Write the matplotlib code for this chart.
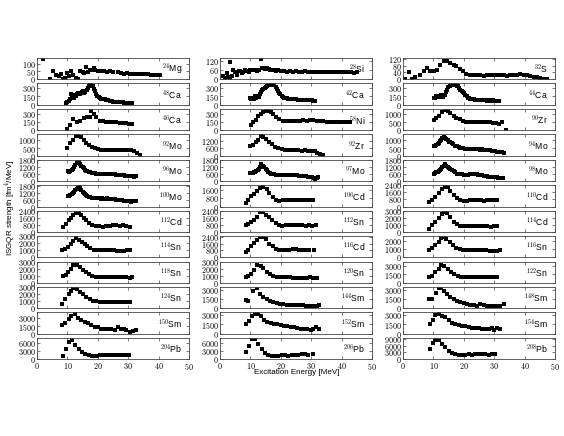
import matplotlib
matplotlib.use('Agg')
import matplotlib.pyplot as plt
from matplotlib.ticker import FuncFormatter

plt.rcParams['font.family'] = ['Liberation Sans', 'DejaVu Sans']
plt.rcParams['mathtext.fontset'] = 'cm'

# ---------------- data (excitation energy [MeV], strength [fm^4/MeV]) ----------------
mg24_e = [2.0, 4.2, 5.3, 6.1, 7.2, 8.0, 8.6, 9.1, 9.8, 10.5, 11.2, 12.0, 12.8, 13.5, 14.2, 15.0, 15.6, 16.2, 16.8, 17.4,
          18.0, 18.6, 19.2, 20.0, 21.0, 22.0, 23.0, 24.0, 25.0, 26.5, 27.5, 28.5, 29.5, 30.5, 31.5, 32.5, 33.5, 34.5,
          35.5, 36.5, 37.5, 38.5, 39.5, 40.5]
mg24_s = [127, 2, 50, 30, 22, 35, 5, 8, 38, 20, 50, 25, 8, 5, 55, 48, 42, 80, 45, 58,
          62, 72, 60, 55, 50, 52, 48, 50, 46, 47, 40, 36, 38, 34, 35, 33, 34, 32,
          31, 31, 30, 30, 29, 29]

ca48_e = [9.7, 10.0, 10.4, 10.8, 11.2, 11.5, 11.9, 12.3, 12.7, 13.1, 13.5, 13.9, 14.3, 14.7, 15.1, 15.5, 15.9, 16.3,
          16.7, 17.1, 17.5, 17.9, 18.3, 18.7, 19.1, 19.5, 19.9, 20.3, 20.7, 21.1, 21.5, 21.9, 22.3, 22.7, 23.1, 23.5,
          23.9, 24.3, 24.7, 25.1, 25.5, 25.9, 26.3, 26.7, 27.1, 27.5, 27.9, 28.3, 28.7, 29.1, 29.5, 29.9, 30.3, 30.7, 31.1]
ca48_s = [35, 55, 70, 95, 190, 150, 170, 130, 150, 200, 220, 190, 200, 230, 240, 215, 230, 260,
          310, 345, 360, 350, 330, 290, 250, 200, 165, 140, 125, 110, 105, 95, 95, 90, 85, 80,
          70, 65, 60, 55, 50, 50, 52, 48, 45, 45, 48, 42, 40, 38, 40, 32, 35, 30, 36]

ca46_e = [10.0, 10.7, 12.0, 13.2, 14.3, 15.4, 16.4, 17.3, 17.9, 18.8, 19.5, 20.6, 21.7, 22.8, 23.9, 25.0, 26.1, 27.2,
          28.3, 29.4, 30.4, 31.4]
ca46_s = [30, 100, 205, 145, 175, 220, 237, 237, 345, 300, 237, 175, 165, 155, 150, 145, 140, 135, 130, 125, 118, 105]

mo92_e = [10.0, 11.0, 11.8, 12.7, 13.6, 14.5, 15.4, 16.2, 17.1, 18.0, 19.0, 20.0, 21.0, 22.0, 23.0, 24.0, 25.0,
          26.0, 27.0, 28.0, 29.0, 30.0, 31.0, 32.0, 33.0, 34.0]
mo92_s = [530, 800, 1050, 1280, 1280, 1200, 1000, 810, 700, 580, 490, 420, 400, 400, 390, 390, 395,
          390, 385, 390, 380, 375, 350, 300, 150, 30]

mo96_e = [10.2, 10.6, 11.0, 11.4, 11.8, 12.2, 12.6, 13.0, 13.4, 13.8, 14.2, 14.6, 15.0, 15.4, 15.8, 16.2, 16.6,
          17.0, 17.5, 18.0, 18.5, 19.0, 19.5, 20.0, 20.5, 21.0, 21.5, 22.0, 22.5, 23.0, 23.5, 24.0, 24.5, 25.0,
          25.5, 26.0, 26.5, 27.0, 27.5, 28.0, 28.5, 29.0, 29.5, 30.0, 30.5, 31.0, 31.5, 32.0, 32.5]
mo96_s = [850, 800, 870, 950, 1050, 1200, 1400, 1550, 1700, 1650, 1500, 1350, 1200, 1100, 1000, 900, 850,
          800, 750, 720, 700, 680, 660, 650, 640, 650, 630, 620, 640, 620, 600, 610, 590, 580,
          600, 570, 560, 550, 540, 520, 500, 480, 470, 450, 440, 420, 400, 380, 420]

mo100_e = [10.2, 10.6, 11.0, 11.4, 11.8, 12.2, 12.6, 13.0, 13.4, 13.8, 14.2, 14.6, 15.0, 15.4, 15.8, 16.2, 16.6,
           17.0, 17.5, 18.0, 18.5, 19.0, 19.5, 20.0, 21.0, 21.5, 22.0, 22.5, 23.0, 23.5, 24.0, 24.5, 25.0, 25.5,
           26.0, 26.5, 27.0, 27.5, 28.0, 28.5, 29.0, 29.5, 30.0, 30.5, 31.0, 31.5, 32.0, 32.5]
mo100_s = [900, 920, 980, 1050, 1150, 1250, 1400, 1550, 1650, 1700, 1600, 1450, 1300, 1200, 1100, 1000, 900,
           850, 800, 760, 740, 720, 700, 700, 680, 700, 680, 660, 700, 680, 650, 660, 640, 620,
           600, 580, 570, 560, 540, 520, 500, 480, 470, 450, 400, 480, 520, 500]

cd112_e = [8.6, 9.4, 10.4, 11.3, 12.0, 12.9, 13.8, 14.6, 15.4, 16.2, 17.1, 18.2, 19.3, 20.4, 21.7, 22.8, 24.0,
           25.0, 26.1, 27.2, 28.3, 29.4, 30.5]
cd112_s = [590, 900, 1300, 1570, 1890, 2160, 2160, 1890, 1570, 1300, 980, 830, 710, 710, 590, 700, 710,
           790, 830, 710, 790, 710, 600]

sn114_e = [8.3, 9.3, 10.2, 11.1, 12.0, 12.9, 13.8, 14.8, 15.7, 16.6, 17.5, 18.6, 19.7, 20.8, 21.9, 23.0, 24.1,
           25.2, 26.3, 27.4, 28.5, 29.6, 30.5]
sn114_s = [1050, 1190, 1520, 1900, 2380, 2710, 2480, 2140, 1900, 1670, 1330, 1100, 1050, 1000, 1000, 1000, 980,
           990, 960, 960, 960, 1000, 1000]

sn118_e = [8.6, 9.4, 10.2, 11.3, 12.0, 13.3, 14.0, 15.1, 16.2, 17.1, 18.2, 19.5, 20.6, 21.7, 22.8, 23.9, 25.0,
           26.1, 27.2, 28.3, 29.4, 30.5, 31.4]
sn118_s = [1050, 1200, 1550, 2050, 2550, 2650, 2300, 1950, 1550, 1300, 1050, 900, 900, 880, 900, 890, 880,
           900, 880, 870, 900, 700, 800]

sn124_e = [8.3, 9.3, 10.4, 11.3, 12.0, 13.2, 14.0, 15.1, 16.2, 17.3, 18.4, 19.5, 20.6, 21.7, 22.8, 23.9, 25.0,
           26.1, 27.2, 28.3, 29.4, 30.5]
sn124_s = [650, 1250, 2000, 2500, 2850, 2700, 2350, 2000, 1600, 1250, 1100, 1000, 950, 940, 950, 920, 900,
           920, 880, 850, 900, 920]

sm150_e = [8.3, 9.3, 10.4, 11.3, 12.4, 13.5, 14.6, 15.7, 16.8, 17.9, 19.0, 20.0, 21.2, 22.3, 23.4, 24.5, 25.6,
           26.6, 27.7, 28.5, 29.4, 30.5, 31.6, 32.7]
sm150_s = [1700, 2180, 2860, 3550, 3950, 3000, 2700, 2350, 2050, 1700, 1360, 1230, 1020, 880, 880, 880, 680,
           1230, 880, 1020, 680, 340, 550, 680]

pb204_e = [8.6, 9.6, 10.5, 11.5, 12.6, 13.7, 14.8, 15.9, 17.0, 18.1, 19.0, 19.8, 20.6, 21.6, 22.6, 23.6, 24.6,
           25.6, 26.6, 27.6, 28.6, 29.6, 30.4]
pb204_s = [1170, 3780, 6500, 7400, 5480, 3780, 2600, 1960, 1570, 1300, 1170, 1300, 1570, 1500, 1550, 1500, 1600,
           1550, 1550, 1500, 1500, 1450, 1500]

si28_e = [0.9, 1.6, 2.2, 2.7, 3.3, 3.3, 3.8, 4.4, 5.0, 5.5, 6.1, 6.6, 7.2, 7.7, 8.3, 8.8, 9.4, 9.9, 10.4, 11.0,
          11.5, 12.1, 12.7, 13.5, 13.7, 14.2, 14.8, 15.4, 16.0, 16.6, 17.2, 17.8, 18.5, 19.2, 20.0, 21.0, 22.0,
          23.0, 24.0, 25.0, 26.0, 27.0, 28.0, 29.0, 30.0, 31.0, 32.0, 33.0, 34.0, 35.0, 36.0, 37.0, 38.0, 39.0,
          40.0, 41.0, 42.0, 43.0, 44.0, 45.0]
si28_s = [23, 10, 40, 12, 7, 110, 23, 58, 45, 30, 55, 53, 40, 47, 58, 53, 45, 58, 63, 58,
          60, 53, 62, 133, 70, 72, 68, 70, 66, 60, 62, 58, 56, 58, 55, 52, 50,
          52, 50, 51, 50, 50, 51, 50, 49, 50, 50, 49, 50, 48, 49, 48, 48, 47,
          48, 46, 47, 45, 44, 45]

ca42_e = [9.9, 10.3, 10.7, 11.1, 11.5, 11.9, 12.3, 12.7, 13.1, 13.5, 13.9, 14.3, 14.7, 15.1, 15.5, 15.9, 16.3,
          16.7, 17.1, 17.5, 17.9, 18.3, 18.7, 19.1, 19.5, 19.9, 20.3, 20.7, 21.1, 21.5, 21.9, 22.3, 22.7, 23.1,
          23.5, 23.9, 24.3, 24.7, 25.1, 25.5, 25.9, 26.3, 26.7, 27.1, 27.5, 27.9, 28.3, 28.7, 29.1, 29.5, 29.9,
          30.3, 30.7, 31.1]
ca42_s = [120, 100, 130, 100, 150, 120, 160, 140, 200, 230, 260, 280, 300, 320, 340, 355, 365,
          370, 370, 365, 350, 320, 290, 255, 220, 190, 165, 145, 130, 125, 115, 110, 110, 105,
          100, 100, 95, 95, 95, 90, 92, 88, 90, 85, 88, 85, 80, 85, 80, 85, 78,
          80, 75, 70]

ni58_e = [10.2, 11.0, 11.7, 12.6, 13.5, 14.3, 15.1, 15.9, 16.7, 17.5, 18.4, 19.5, 20.6, 21.7, 22.8, 23.6, 24.7,
          25.2, 26.3, 27.4, 28.5, 29.6, 30.7, 31.8, 32.9, 34.0, 35.1, 36.2, 37.3, 38.4, 39.5, 40.6, 41.7, 42.8]
ni58_s = [100, 140, 185, 260, 300, 330, 350, 345, 330, 290, 240, 200, 175, 165, 160, 165, 170,
          160, 175, 180, 175, 180, 185, 175, 170, 160, 155, 155, 155, 150, 145, 145, 145, 140]

zr92_e = [9.9, 10.7, 11.7, 12.6, 13.5, 14.3, 15.1, 16.0, 17.0, 18.1, 19.2, 20.3, 21.4, 22.5, 23.6, 24.7, 25.8,
          26.9, 28.0, 29.1, 30.2, 31.2, 32.0, 33.0, 34.0]
zr92_s = [780, 870, 1060, 1250, 1530, 1480, 1340, 1120, 920, 700, 590, 500, 450, 420, 420, 415, 420,
          410, 415, 400, 370, 340, 250, 100, 30]

mo97_e = [9.9, 10.3, 10.7, 11.1, 11.5, 11.9, 12.4, 12.8, 13.2, 13.6, 14.0, 14.5, 15.0, 15.4, 15.9, 16.4, 16.9,
          17.4, 17.9, 18.4, 18.9, 19.4, 19.9, 20.4, 20.9, 21.4, 21.9, 22.4, 22.9, 23.4, 23.9, 24.4, 24.9, 25.4,
          25.9, 26.4, 26.9, 27.4, 27.9, 28.4, 28.9, 29.4, 29.9, 30.4, 30.9, 31.4, 31.9, 32.4]
mo97_s = [680, 690, 680, 750, 810, 880, 940, 1050, 1200, 1460, 1350, 1200, 1050, 940, 800, 700, 650,
          600, 580, 560, 550, 540, 530, 520, 530, 520, 510, 520, 530, 540, 520, 500, 510, 490,
          470, 450, 420, 440, 420, 400, 380, 380, 350, 330, 300, 200, 300, 320]

cd106_e = [8.4, 9.3, 10.2, 11.2, 12.1, 13.2, 14.3, 15.4, 16.2, 17.3, 18.4, 19.5, 20.6, 21.7, 22.8, 23.9, 25.0,
           26.1, 27.2, 28.3, 29.4, 30.7]
cd106_s = [350, 580, 960, 1220, 1470, 1700, 1860, 1630, 1280, 900, 640, 510, 580, 580, 590, 600, 610,
           600, 620, 610, 620, 640]

sn112_e = [8.4, 9.3, 10.2, 11.2, 12.1, 13.0, 14.1, 15.0, 16.1, 17.2, 18.3, 19.4, 20.5, 21.6, 22.7, 23.8, 24.9,
           26.0, 27.1, 28.2, 29.3, 30.4, 31.5]
sn112_s = [800, 920, 1120, 1400, 1720, 2200, 2200, 1920, 1640, 1320, 1040, 840, 720, 800, 780, 760, 780,
           760, 740, 720, 740, 720, 760]

cd116_e = [8.4, 9.3, 10.2, 11.2, 12.1, 13.0, 14.1, 15.1, 16.2, 17.3, 18.4, 19.5, 20.6, 21.7, 22.8, 23.9, 25.0,
           26.1, 27.2, 28.3, 29.4, 30.8]
cd116_s = [600, 880, 1280, 1680, 2000, 2400, 2400, 2080, 1600, 1280, 1000, 880, 800, 800, 880, 1000, 920,
           880, 800, 800, 800, 800]

sn120_e = [8.4, 9.3, 10.2, 11.2, 12.3, 13.4, 14.3, 15.4, 16.4, 17.5, 18.6, 19.7, 20.8, 21.9, 23.0, 24.1, 25.2,
           26.3, 27.4, 28.5, 29.6, 30.7, 31.8]
sn120_s = [900, 1000, 1350, 1950, 2600, 2450, 2100, 1600, 1250, 950, 850, 820, 800, 820, 800, 780, 760,
           760, 780, 760, 800, 780, 760]

sm144_e = [8.4, 9.3, 11.0, 12.1, 13.2, 14.3, 15.4, 16.4, 17.5, 18.6, 19.7, 20.8, 21.9, 23.0, 24.1, 25.2, 26.1,
           27.2, 28.3, 29.4, 30.7, 31.8, 32.7]
sm144_s = [1330, 1220, 2780, 3170, 2330, 1890, 1500, 1220, 940, 780, 670, 670, 560, 500, 480, 470, 500,
           560, 390, 330, 390, 390, 560]

sm152_e = [8.6, 9.5, 10.6, 11.5, 12.6, 13.5, 14.5, 15.6, 16.7, 17.8, 18.9, 20.0, 21.1, 22.1, 23.2, 24.3, 25.4,
           26.5, 27.6, 28.7, 29.8, 30.7, 31.6, 32.7]
sm152_s = [1500, 2050, 2780, 3220, 3220, 2780, 2220, 1940, 1670, 1550, 1500, 1390, 1280, 1170, 1110, 1060, 940,
           830, 830, 830, 670, 830, 1110, 830]

pb206_e = [8.6, 9.5, 10.4, 11.5, 12.6, 13.7, 14.8, 15.9, 17.0, 18.1, 19.2, 20.3, 21.4, 22.5, 23.6, 24.7, 25.8,
           26.9, 28.0, 29.1, 30.7]
pb206_s = [2870, 4830, 7440, 7440, 5740, 3780, 2220, 1570, 1170, 1170, 1300, 1570, 1570, 1400, 1570, 1700, 1700,
           1830, 1830, 1700, 1960]

s32_e = [0.8, 1.9, 3.0, 4.1, 5.5, 6.8, 7.9, 9.0, 10.1, 11.2, 12.3, 13.4, 14.5, 15.6, 16.7, 17.5, 18.6, 19.7,
         20.8, 21.9, 23.2, 24.3, 25.4, 26.5, 27.6, 28.7, 29.8, 30.9, 32.0, 33.1, 34.2, 35.3, 36.4, 37.5, 38.6,
         39.7, 40.8, 41.9, 43.0, 44.1, 45.2, 46.3, 47.4]
s32_s = [0, 44, 0, 13, 28, 51, 67, 51, 51, 57, 82, 105, 105, 95, 86, 76, 63, 48,
         32, 25, 25, 23, 25, 19, 28, 25, 28, 23, 28, 23, 19, 25, 25, 23, 32,
         28, 25, 19, 15, 13, 10, 4, 0]

ca44_e = [10.1, 10.5, 10.9, 11.3, 11.7, 12.1, 12.5, 12.9, 13.3, 13.7, 14.1, 14.5, 14.9, 15.3, 15.7, 16.1, 16.5,
          16.9, 17.3, 17.7, 18.1, 18.5, 18.9, 19.3, 19.7, 20.1, 20.5, 20.9, 21.3, 21.7, 22.1, 22.5, 22.9, 23.3,
          23.7, 24.1, 24.5, 24.9, 25.3, 25.7, 26.1, 26.5, 26.9, 27.3, 27.7, 28.1, 28.5, 28.9, 29.3, 29.7, 30.1,
          30.5, 30.9, 31.3, 31.7]
ca44_s = [115, 130, 150, 155, 140, 160, 170, 150, 140, 180, 230, 270, 320, 340, 355, 365, 365,
          360, 355, 345, 330, 305, 275, 250, 230, 210, 180, 150, 130, 120, 110, 105, 100, 95,
          92, 90, 88, 85, 85, 80, 80, 78, 80, 78, 75, 78, 75, 80, 75, 78, 75,
          72, 75, 70, 65]

zr90_e = [10.1, 11.0, 12.0, 12.8, 13.7, 14.7, 15.6, 16.7, 17.5, 18.6, 19.7, 20.8, 21.9, 23.0, 24.1, 25.2, 26.3,
          27.4, 28.5, 29.6, 30.7, 31.6, 32.6, 33.9]
zr90_s = [625, 730, 875, 1100, 1210, 1190, 1040, 875, 770, 670, 580, 520, 480, 470, 475, 470, 470,
          475, 470, 465, 450, 380, 470, 30]

mo94_e = [10.1, 10.5, 11.0, 11.4, 11.7, 12.1, 12.5, 12.9, 13.4, 13.8, 14.3, 14.7, 15.1, 15.6, 16.1, 16.6, 17.2,
          17.7, 18.3, 18.8, 19.4, 19.9, 20.5, 21.0, 21.6, 22.1, 22.7, 23.2, 23.8, 24.3, 24.9, 25.4, 26.0, 26.5,
          27.1, 27.6, 28.2, 28.7, 29.3, 29.8, 30.4, 30.9, 31.5, 32.0, 32.6, 33.1]
mo94_s = [610, 650, 720, 760, 830, 950, 1040, 1130, 1200, 1150, 1100, 1000, 930, 880, 830, 740, 650,
          610, 570, 530, 500, 470, 430, 450, 460, 440, 430, 440, 420, 430, 410, 400, 410, 390,
          380, 370, 350, 340, 320, 300, 290, 270, 250, 230, 220, 200]

mo98_e = [10.1, 10.5, 11.0, 11.4, 11.7, 12.1, 12.5, 12.9, 13.4, 13.9, 14.3, 14.7, 15.1, 15.6, 16.1, 16.7, 17.2,
          17.8, 18.3, 18.9, 19.4, 20.0, 20.5, 21.0, 21.5, 22.1, 22.6, 23.2, 23.7, 24.3, 24.8, 25.4, 25.9, 26.5,
          27.0, 27.6, 28.1, 28.7, 29.2, 29.8, 30.3, 30.9, 31.4, 32.0, 32.5, 32.9]
mo98_s = [660, 700, 750, 800, 850, 950, 1060, 1200, 1330, 1460, 1350, 1250, 1150, 1060, 950, 850, 750,
          660, 620, 590, 580, 570, 560, 550, 570, 590, 600, 610, 600, 590, 560, 530, 500, 480,
          450, 400, 380, 370, 350, 320, 320, 320, 290, 270, 260, 250]

cd110_e = [8.4, 9.5, 10.6, 11.7, 12.8, 13.9, 14.7, 15.6, 16.7, 17.8, 18.9, 20.0, 21.1, 22.2, 23.3, 24.4, 25.5,
           26.6, 27.7, 28.8, 29.9, 30.9]
cd110_s = [480, 740, 1040, 1490, 1970, 2230, 2160, 1790, 1340, 930, 740, 670, 670, 690, 700, 720, 700,
           680, 720, 700, 690, 740]

cd114_e = [8.4, 9.5, 10.6, 11.7, 12.8, 13.6, 14.5, 15.6, 16.7, 17.8, 18.9, 20.0, 21.1, 22.2, 23.3, 24.4, 25.5,
           26.6, 27.7, 28.8, 29.9, 30.9]
cd114_s = [420, 950, 1470, 2000, 2530, 2790, 2630, 2100, 1470, 1100, 840, 790, 790, 800, 790, 800, 790,
           780, 800, 680, 790, 800]

sn116_e = [8.4, 9.5, 10.6, 11.7, 12.6, 13.4, 14.3, 15.4, 16.4, 17.5, 18.6, 19.7, 20.8, 21.9, 23.0, 24.1, 25.2,
           26.3, 27.4, 28.5, 29.6, 30.9, 32.0]
sn116_s = [900, 1100, 1510, 1920, 2330, 2530, 2240, 1920, 1510, 1180, 980, 900, 900, 920, 900, 880, 880,
           860, 850, 820, 800, 780, 900]

sn122_e = [8.4, 9.5, 10.6, 11.7, 12.6, 13.6, 14.7, 15.8, 16.9, 18.0, 19.1, 20.2, 21.3, 22.4, 23.5, 24.6, 25.7,
           26.8, 27.9, 29.0, 30.1, 30.9]
sn122_s = [960, 1260, 1860, 2460, 3180, 2880, 2460, 1980, 1560, 1260, 1080, 1080, 1080, 1080, 1050, 1080, 1060,
           1040, 1080, 1000, 1020, 960]

sm148_e = [8.4, 9.5, 10.9, 11.7, 12.6, 13.4, 14.5, 15.6, 16.7, 17.8, 18.9, 20.0, 21.0, 22.1, 23.2, 24.3, 25.4,
           26.5, 27.6, 28.7, 29.8, 30.9, 32.0, 33.1]
sm148_s = [1500, 1500, 2440, 3170, 3170, 2780, 2330, 1890, 1500, 1220, 940, 780, 670, 560, 500, 330, 670,
           500, 390, 330, 330, 390, 390, 670]

sm154_e = [8.8, 9.8, 10.6, 11.7, 12.8, 13.9, 15.0, 16.1, 17.2, 18.3, 19.4, 20.5, 21.6, 22.7, 23.8, 24.9, 26.0,
           27.1, 28.2, 29.3, 30.0, 30.9, 32.0]
sm154_s = [1550, 2220, 3000, 3170, 2830, 2610, 2220, 1780, 1550, 1390, 1280, 1170, 1110, 1000, 940, 890, 830,
           830, 780, 940, 670, 890, 830]

pb208_e = [8.8, 9.8, 10.6, 11.7, 12.8, 13.9, 15.0, 16.1, 17.2, 18.3, 19.4, 20.5, 21.6, 22.7, 23.8, 24.9, 26.0,
           27.1, 28.2, 29.3, 30.4]
pb208_s = [4330, 7300, 8500, 8500, 6570, 5220, 3730, 2840, 2240, 1790, 1790, 1790, 2240, 2000, 2100, 2200, 2100,
           2150, 2050, 2100, 2150]

x_ticks = [0, 10, 20, 30, 40, 50]
x_label = 'Excitation Energy [MeV]'
y_label = r'ISGQR strength [fm$^4$/MeV]'

# (energies, strengths, nucleus label, y ticks, y max)
column1 = [
    (mg24_e, mg24_s, r'$^{24}$Mg', [0, 50, 100], 135),
    (ca48_e, ca48_s, r'$^{48}$Ca', [0, 150, 300], 385),
    (ca46_e, ca46_s, r'$^{46}$Ca', [0, 150, 300], 385),
    (mo92_e, mo92_s, r'$^{92}$Mo', [0, 500, 1000], 1400),
    (mo96_e, mo96_s, r'$^{96}$Mo', [0, 600, 1200, 1800], 1850),
    (mo100_e, mo100_s, r'$^{100}$Mo', [0, 600, 1200, 1800], 1850),
    (cd112_e, cd112_s, r'$^{112}$Cd', [0, 800, 1600, 2400], 2400),
    (sn114_e, sn114_s, r'$^{114}$Sn', [0, 1000, 2000, 3000], 3000),
    (sn118_e, sn118_s, r'$^{118}$Sn', [0, 1000, 2000, 3000], 3100),
    (sn124_e, sn124_s, r'$^{124}$Sn', [0, 1000, 2000, 3000], 3000),
    (sm150_e, sm150_s, r'$^{150}$Sm', [0, 1500, 3000], 4150),
    (pb204_e, pb204_s, r'$^{204}$Pb', [0, 3000, 6000], 8000),
]
column2 = [
    (si28_e, si28_s, r'$^{28}$Si', [0, 60, 120], 138),
    (ca42_e, ca42_s, r'$^{42}$Ca', [0, 150, 300], 385),
    (ni58_e, ni58_s, r'$^{58}$Ni', [0, 150, 300], 385),
    (zr92_e, zr92_s, r'$^{92}$Zr', [0, 600, 1200], 1700),
    (mo97_e, mo97_s, r'$^{97}$Mo', [0, 600, 1200, 1800], 1850),
    (cd106_e, cd106_s, r'$^{106}$Cd', [0, 800, 1600], 2000),
    (sn112_e, sn112_s, r'$^{112}$Sn', [0, 800, 1600, 2400], 2400),
    (cd116_e, cd116_s, r'$^{116}$Cd', [0, 800, 1600, 2400], 2450),
    (sn120_e, sn120_s, r'$^{120}$Sn', [0, 1000, 2000, 3000], 3100),
    (sm144_e, sm144_s, r'$^{144}$Sm', [0, 1500, 3000], 3400),
    (sm152_e, sm152_s, r'$^{152}$Sm', [0, 1500, 3000], 3400),
    (pb206_e, pb206_s, r'$^{206}$Pb', [0, 3000, 6000], 8000),
]
column3 = [
    (s32_e, s32_s, r'$^{32}$S', [0, 40, 80, 120], 125),
    (ca44_e, ca44_s, r'$^{44}$Ca', [0, 150, 300], 385),
    (zr90_e, zr90_s, r'$^{90}$Zr', [0, 500, 1000], 1300),
    (mo94_e, mo94_s, r'$^{94}$Mo', [0, 500, 1000], 1400),
    (mo98_e, mo98_s, r'$^{98}$Mo', [0, 600, 1200, 1800], 1850),
    (cd110_e, cd110_s, r'$^{110}$Cd', [0, 800, 1600, 2400], 2400),
    (cd114_e, cd114_s, r'$^{114}$Cd', [0, 1000, 2000, 3000], 3000),
    (sn116_e, sn116_s, r'$^{116}$Sn', [0, 1000, 2000], 2600),
    (sn122_e, sn122_s, r'$^{122}$Sn', [0, 1500, 3000], 3700),
    (sm148_e, sm148_s, r'$^{148}$Sm', [0, 1500, 3000], 3400),
    (sm154_e, sm154_s, r'$^{154}$Sm', [0, 1500, 3000], 3400),
    (pb208_e, pb208_s, r'$^{208}$Pb', [0, 3000, 6000, 9000], 9300),
]

# ---------------- layout ----------------
W, H = 564, 436
fig = plt.figure(figsize=(W / 100, H / 100), dpi=100)
col_left_px = [37, 220, 403]
col_w_px = 152
row_top0_px = 58
row_pitch_px = 25.45
row_h_px = 21.3
frame_col = '#444444'

fmt = FuncFormatter(lambda v, p: r'$%d$' % v)

for ci, column in enumerate([column1, column2, column3]):
    for ri, (e, s, lab, yt, ymax) in enumerate(column):
        top = row_top0_px + ri * row_pitch_px
        ax = fig.add_axes([col_left_px[ci] / W, 1 - (top + row_h_px) / H, col_w_px / W, row_h_px / H])
        ax.plot(e, s, 's', ms=2.3, mew=0, color='black')
        ax.set_xlim(0, 50)
        ax.set_ylim(0, ymax)
        ax.set_xticks(x_ticks)
        ax.set_yticks(yt)
        ax.xaxis.set_major_formatter(fmt)
        ax.yaxis.set_major_formatter(fmt)
        ax.tick_params(direction='in', length=2.2, width=0.5, color=frame_col, top=True, right=True,
                       labelsize=5.8, pad=1.2)
        if ri != len(column) - 1:
            ax.tick_params(labelbottom=False)
        for sp in ax.spines.values():
            sp.set_color(frame_col)
            sp.set_linewidth(0.6)
        ax.text(0.955, 0.45, lab, transform=ax.transAxes, ha='right', va='center', fontsize=6.2)

fig.text(296.5 / W, 1 - 372 / H, x_label, ha='center', va='center', fontsize=5.8)
fig.text(10 / W, 1 - 208 / H, y_label, rotation=90, ha='center', va='center', fontsize=5.8)

fig.savefig('out.png', dpi=100)
